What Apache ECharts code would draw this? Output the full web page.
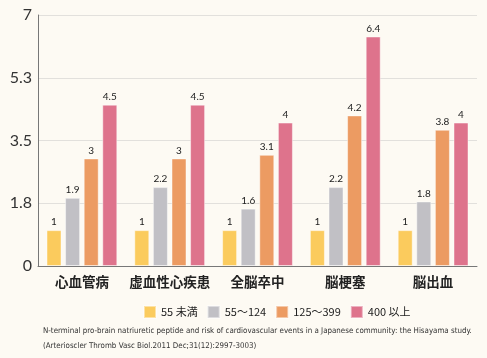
<!DOCTYPE html>
<html><head><meta charset="utf-8">
<script src="https://cdn.jsdelivr.net/npm/echarts@6/dist/echarts.min.js"></script>
<style>html,body{margin:0;padding:0;background:#fdfaf3;}#c{width:487px;height:358px;}</style>
</head><body><div id="c"></div>
<script>
var categories = ['心血管病', '虚血性心疾患', '全脳卒中', '脳梗塞', '脳出血'];
var seriesNames = ['55 未満', '55～124', '125～399', '400 以上'];
var s1 = [1, 1, 1, 1, 1];
var s2 = [1.9, 2.2, 1.6, 2.2, 1.8];
var s3 = [3, 3, 3.1, 4.2, 3.8];
var s4 = [4.5, 4.5, 4, 6.4, 4];
var colors = ['#fbcb5d', '#c1c0c5', '#ec9b62', '#de738c'];
var footnote1 = 'N-terminal pro-brain natriuretic peptide and risk of cardiovascular events in a Japanese community: the Hisayama study.';
var footnote2 = '(Arterioscler Thromb Vasc Biol.2011 Dec;31(12):2997-3003)';

var data = [s1, s2, s3, s4];
var chart = echarts.init(document.getElementById('c'));
chart.setOption({
  backgroundColor: '#fdfaf3',
  animation: false,
  grid: {left: 38, right: 10, top: 15, bottom: 92},
  legend: {
    left: 138, top: 300, itemWidth: 12, itemHeight: 12, itemGap: 9,
    icon: 'rect',
    textStyle: {fontSize: 11, color: '#222', fontFamily: 'Noto Sans CJK JP'},
    data: seriesNames
  },
  xAxis: {
    type: 'category', data: categories,
    axisLine: {lineStyle: {color: '#777', width: 1}},
    axisTick: {show: false},
    axisLabel: {interval: 0, fontSize: 13.5, fontWeight: 'bold', color: '#222', margin: 9, fontFamily: 'Noto Sans CJK JP'}
  },
  yAxis: {
    type: 'value', min: 0, max: 7, interval: 1.75,
    axisLine: {show: true, lineStyle: {color: '#777', width: 1}},
    axisTick: {show: false},
    splitLine: {lineStyle: {color: '#e2e0dc'}},
    axisLabel: {
      fontSize: 16, color: '#333', margin: 6, fontFamily: 'Lato',
      formatter: function (v) { return Number.isInteger(v) ? String(v) : v.toFixed(1); }
    }
  },
  series: data.map(function (d, i) {
    return {
      name: seriesNames[i], type: 'bar', data: d,
      barWidth: 15, barGap: '24%',
      itemStyle: {color: colors[i], borderColor: 'rgba(255,255,255,0.45)', borderWidth: 1},
      label: {show: true, position: 'top', fontSize: 10, color: '#222', distance: 3, fontFamily: 'Lato'}
    };
  }),
  graphic: [
    {type: 'text', left: 43, top: 327, style: {text: footnote1, fontSize: 7.9, fill: '#333', fontFamily: 'DejaVu Sans Condensed, sans-serif'}},
    {type: 'text', left: 43, top: 342, style: {text: footnote2, fontSize: 7.9, fill: '#333', fontFamily: 'DejaVu Sans Condensed, sans-serif'}}
  ]
});
</script></body></html>
